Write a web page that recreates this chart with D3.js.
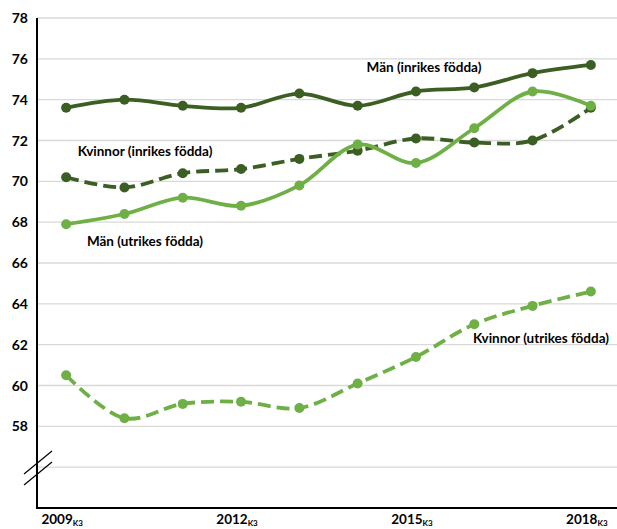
<!DOCTYPE html>
<html>
<head>
<meta charset="utf-8">
<script src="https://cdn.jsdelivr.net/npm/d3@7"></script>
<style>
  body { margin: 0; background: #fff; }
  text { font-family: Lato, "Open Sans", sans-serif; font-weight: bold; fill: #000; }
</style>
</head>
<body>
<svg id="chart" width="617" height="529"></svg>
<script>
// data
const years = ["2009", "2010", "2011", "2012", "2013", "2014", "2015", "2016", "2017", "2018"];
const xLabels = ["2009", "2012", "2015", "2018"];
const manInrikes = [73.6, 74.0, 73.7, 73.6, 74.3, 73.7, 74.4, 74.6, 75.3, 75.7];
const kvinnorInrikes = [70.2, 69.7, 70.4, 70.6, 71.1, 71.5, 72.1, 71.9, 72.0, 73.6];
const manUtrikes = [67.9, 68.4, 69.2, 68.8, 69.8, 71.8, 70.9, 72.6, 74.4, 73.7];
const kvinnorUtrikes = [60.5, 58.4, 59.1, 59.2, 58.9, 60.1, 61.4, 63.0, 63.9, 64.6];
const yTicks = [58, 60, 62, 64, 66, 68, 70, 72, 74, 76, 78];

const dark = "#3b5e22", light = "#6fb046";

const series = [
  { name: "Män (inrikes födda)", values: manInrikes, color: dark, dash: null, lx: 424, ly: 72 },
  { name: "Kvinnor (inrikes födda)", values: kvinnorInrikes, color: dark, dash: "13,6", lx: 145, ly: 156 },
  { name: "Män (utrikes födda)", values: manUtrikes, color: light, dash: null, lx: 145, ly: 246 },
  { name: "Kvinnor (utrikes födda)", values: kvinnorUtrikes, color: light, dash: "13,6", lx: 541, ly: 343 }
];

const svg = d3.select("#chart");
const mLeft = 37, mRight = 620, mTop = 18, mBottom = 508;

const x = d3.scaleBand().domain(years).range([mLeft, mRight]);
const cx = d => x(d) + x.bandwidth() / 2;
const y = d3.scaleLinear().domain([54, 78]).range([mBottom, mTop]);

// gridlines
svg.append("g")
  .selectAll("line")
  .data(yTicks.concat([56]))
  .join("line")
  .attr("x1", mLeft).attr("x2", 617)
  .attr("y1", d => y(d)).attr("y2", d => y(d))
  .attr("stroke", "#d9d9d9").attr("stroke-width", 1.3);

// y tick labels
svg.append("g")
  .selectAll("text")
  .data(yTicks)
  .join("text")
  .attr("x", 28).attr("y", d => y(d))
  .attr("dy", "0.36em")
  .attr("text-anchor", "end")
  .attr("font-size", 14)
  .text(d => d);

// axes lines
svg.append("line").attr("x1", mLeft).attr("x2", mLeft).attr("y1", mTop).attr("y2", mBottom + 1)
  .attr("stroke", "#000").attr("stroke-width", 2);
svg.append("line").attr("x1", mLeft - 1).attr("x2", 617).attr("y1", mBottom).attr("y2", mBottom)
  .attr("stroke", "#000").attr("stroke-width", 2);

// axis break marks
[[24, 474, 52, 451], [24, 485, 52, 462]].forEach(p => {
  svg.append("line").attr("x1", p[0]).attr("y1", p[1]).attr("x2", p[2]).attr("y2", p[3])
    .attr("stroke", "#000").attr("stroke-width", 1.2);
});

// x labels
const xl = svg.append("g").selectAll("text")
  .data(xLabels)
  .join("text")
  .attr("x", d => cx(d) - 4).attr("y", 524)
  .attr("text-anchor", "middle")
  .attr("font-size", 13.5);
xl.append("tspan").text(d => d);
xl.append("tspan").attr("font-size", 8).attr("dy", 1.5).text("K3");

const line = d3.line()
  .x((d, i) => cx(years[i]))
  .y(d => y(d))
  .curve(d3.curveCatmullRom.alpha(0.5));

series.forEach(s => {
  const g = svg.append("g");
  g.append("path")
    .attr("d", line(s.values))
    .attr("fill", "none")
    .attr("stroke", s.color)
    .attr("stroke-width", 3.8)
    .attr("stroke-dasharray", s.dash);
  g.selectAll("circle")
    .data(s.values)
    .join("circle")
    .attr("cx", (d, i) => cx(years[i]))
    .attr("cy", d => y(d))
    .attr("r", 5)
    .attr("fill", s.color);
  svg.append("text")
    .attr("x", s.lx).attr("y", s.ly)
    .attr("text-anchor", "middle")
    .attr("font-size", 13.5)
    .text(s.name);
});
</script>
</body>
</html>
